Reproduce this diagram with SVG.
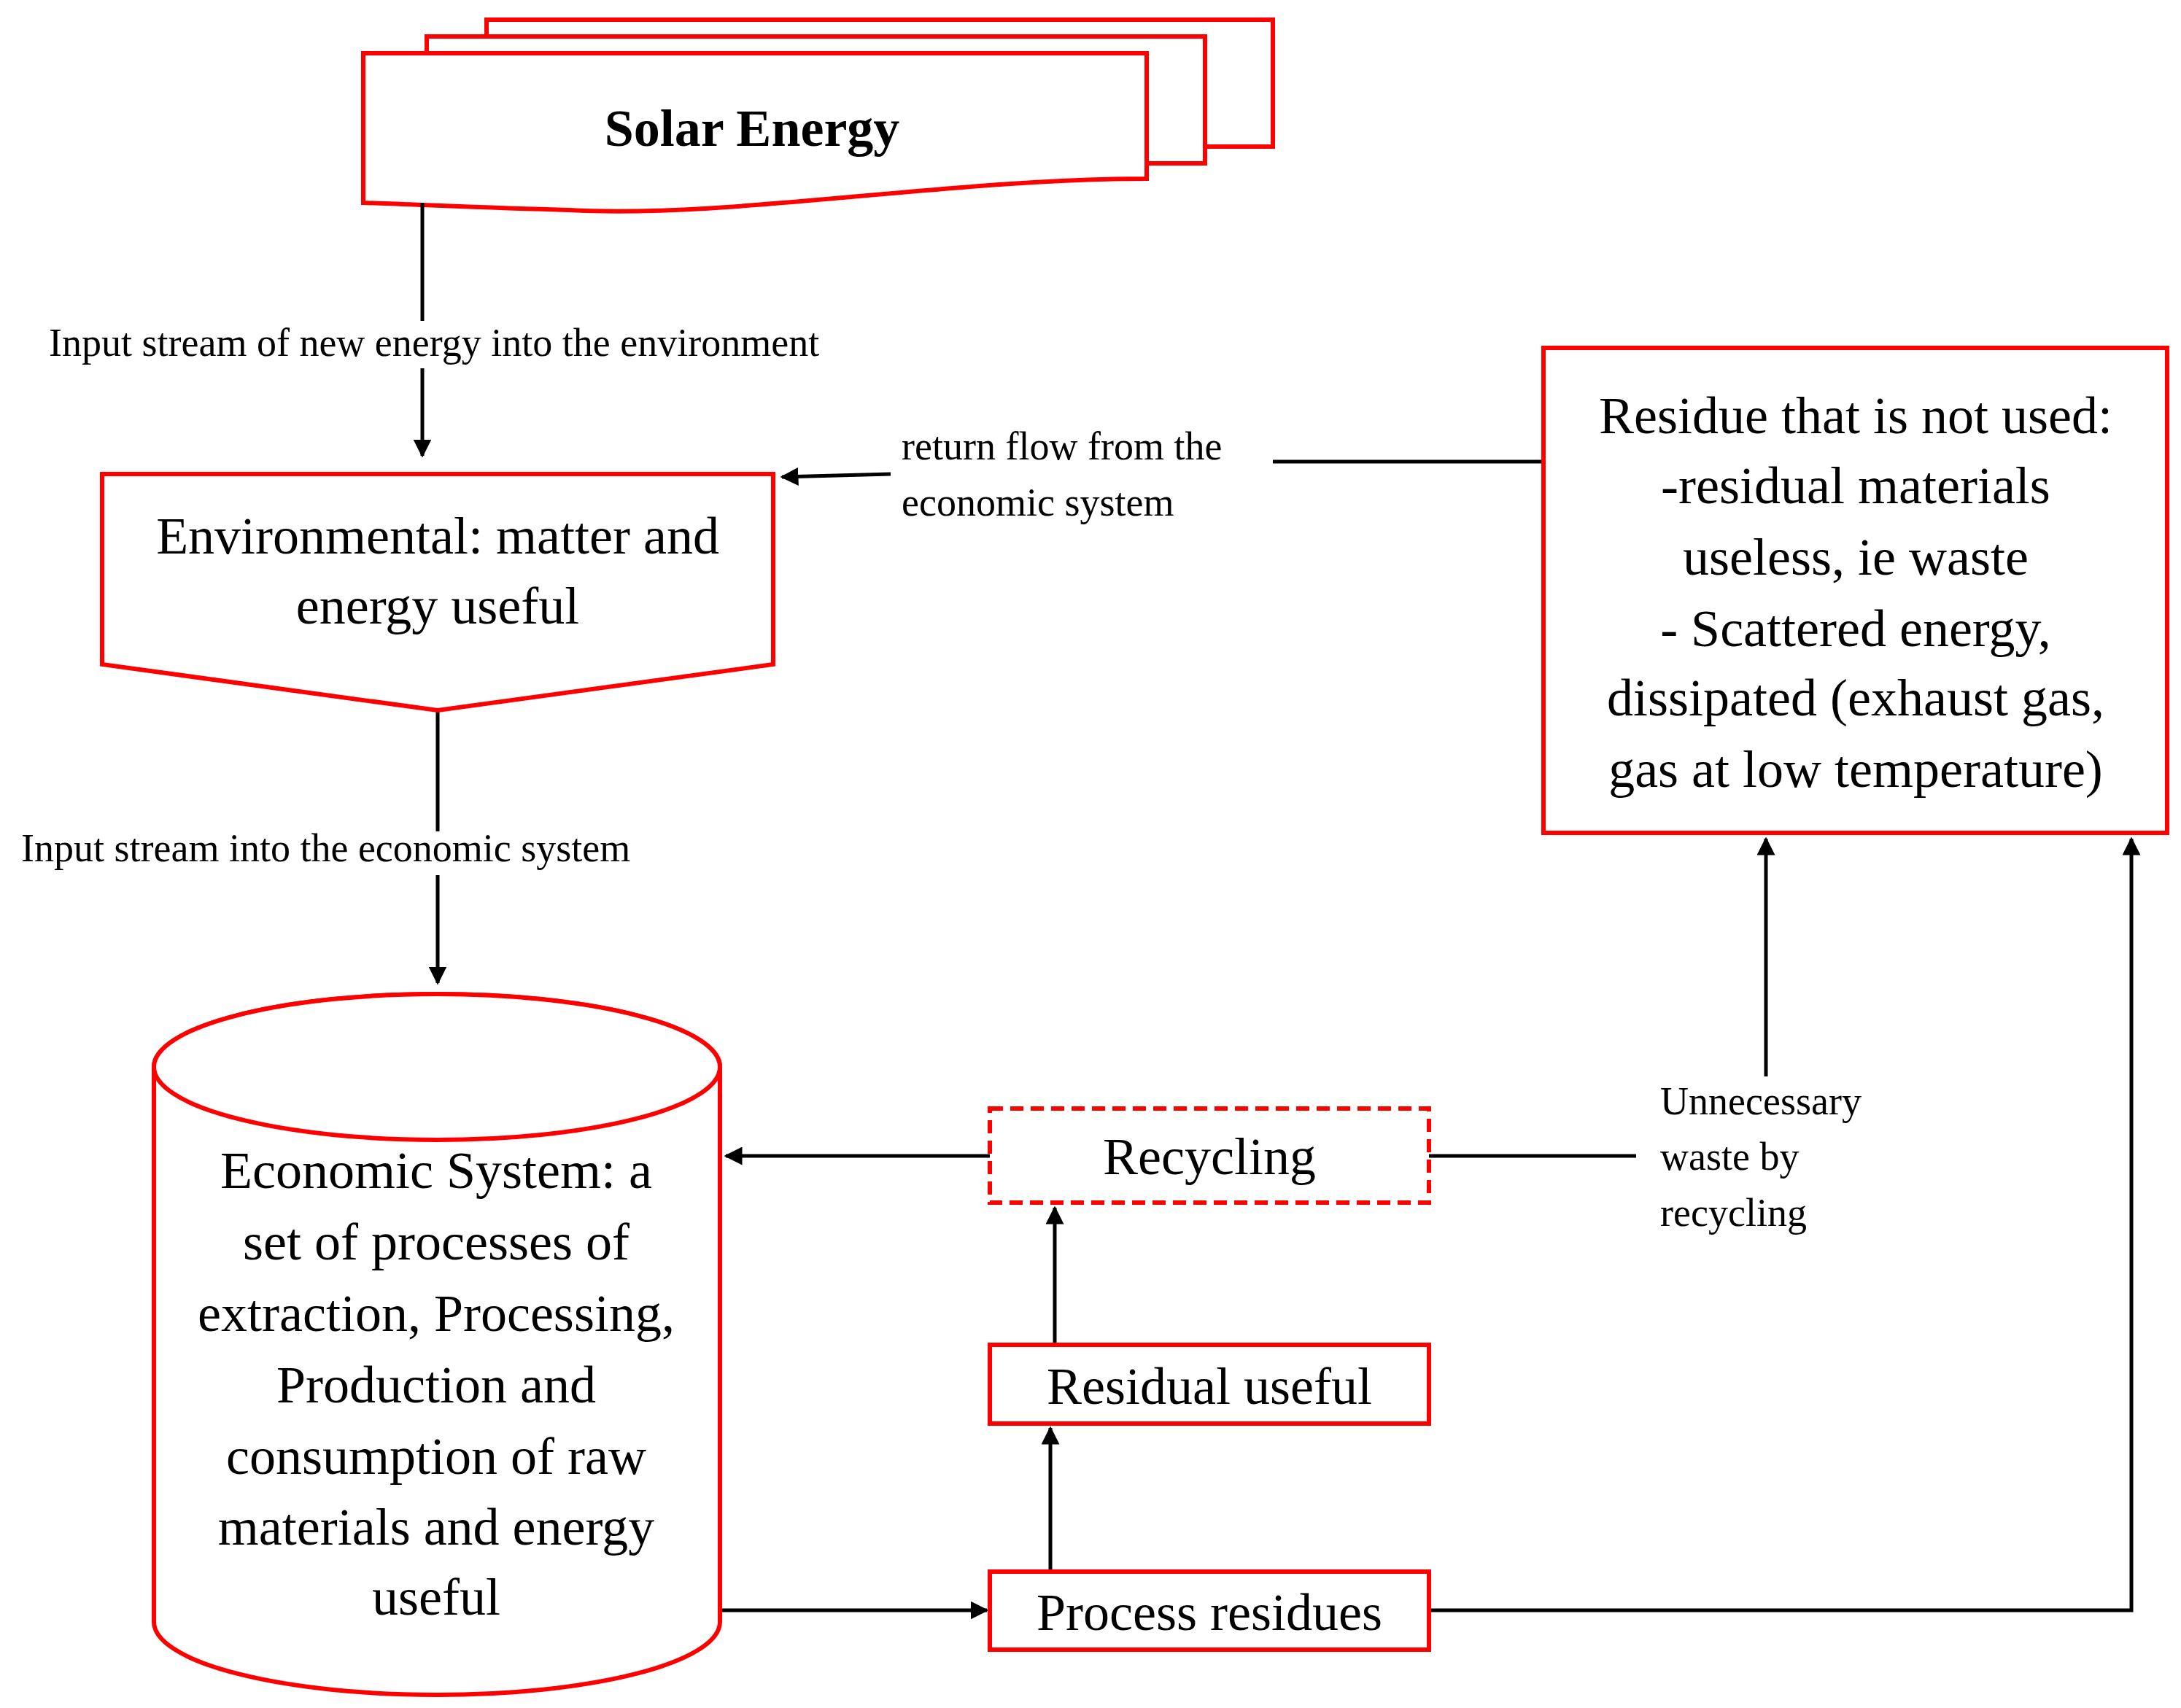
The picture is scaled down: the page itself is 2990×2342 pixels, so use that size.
<svg xmlns="http://www.w3.org/2000/svg" width="2990" height="2342" viewBox="0 0 2990 2342">
<style>
.n{fill:#fff;stroke:#f00;stroke-width:6}
.c{fill:none;stroke:#000;stroke-width:5}
text{font-family:"Liberation Serif","Times New Roman",serif;fill:#000}
.big{font-size:72px;text-anchor:middle}
.lab{font-size:54px}
</style>
<defs>
<marker id="a" viewBox="0 0 10 10" refX="9" refY="5" markerWidth="5" markerHeight="5" orient="auto" markerUnits="strokeWidth"><path d="M0,0L10,5L0,10z" fill="#000"/></marker>
</defs>
<rect width="2990" height="2342" fill="#fff"/>
<g id="solar">
<rect class="n" x="667" y="27" width="1078" height="174"/>
<rect class="n" x="585" y="50" width="1067" height="174"/>
<path class="n" d="M498,73H1572V245C1300,245 1000,300 780,288C640,284 560,280 498,278Z"/>
<text class="big" x="1031" y="200" font-weight="bold">Solar Energy</text>
</g>
<g id="connectors">
<path class="c" d="M579,278V440M579,505V625" marker-end="url(#a)"/>
<path class="c" d="M2116,633H1745"/>
<path class="c" d="M1221,650L1072,654" marker-end="url(#a)"/>
<path class="c" d="M600,974V1140M600,1200V1348" marker-end="url(#a)"/>
<path class="c" d="M1357,1585H995" marker-end="url(#a)"/>
<path class="c" d="M1959,1585H2243"/>
<path class="c" d="M2421,1476V1150" marker-end="url(#a)"/>
<path class="c" d="M1446,1844V1656" marker-end="url(#a)"/>
<path class="c" d="M1440,2155V1958" marker-end="url(#a)"/>
<path class="c" d="M987,2208H1353" marker-end="url(#a)"/>
<path class="c" d="M1959,2208H2922V1150" marker-end="url(#a)"/>
</g>
<g id="labels">
<text class="lab" x="67" y="488">Input stream of new energy into the environment</text>
<text class="lab" x="29" y="1181">Input stream into the economic system</text>
<text class="lab" x="1236" y="630">return flow from the</text>
<text class="lab" x="1236" y="707">economic system</text>
<text class="lab" x="2276" y="1528">Unnecessary</text>
<text class="lab" x="2276" y="1604">waste by</text>
<text class="lab" x="2276" y="1681">recycling</text>
</g>
<g id="environmental">
<path class="n" d="M140,650H1060V911L600,974L140,911Z"/>
<text class="big" x="600" y="759">Environmental: matter and</text>
<text class="big" x="600" y="855">energy useful</text>
</g>
<g id="residue">
<rect class="n" x="2116" y="477" width="855" height="665"/>
<text class="big" x="2544" y="594">Residue that is not used:</text>
<text class="big" x="2544" y="690">-residual materials</text>
<text class="big" x="2544" y="788">useless, ie waste</text>
<text class="big" x="2544" y="886">- Scattered energy,</text>
<text class="big" x="2544" y="981">dissipated (exhaust gas,</text>
<text class="big" x="2544" y="1079">gas at low temperature)</text>
</g>
<g id="economic">
<path class="n" d="M211,1463V2224A388,100 0 0 0 987,2224V1463A388,100 0 0 0 211,1463Z"/>
<ellipse class="n" cx="599" cy="1463" rx="388" ry="100"/>
<text class="big" x="598" y="1629">Economic System: a</text>
<text class="big" x="598" y="1727">set of processes of</text>
<text class="big" x="598" y="1825">extraction, Processing,</text>
<text class="big" x="598" y="1923">Production and</text>
<text class="big" x="598" y="2021">consumption of raw</text>
<text class="big" x="598" y="2118">materials and energy</text>
<text class="big" x="598" y="2214">useful</text>
</g>
<g id="recycling">
<rect class="n" x="1357" y="1520" width="602" height="129" stroke-dasharray="18,10"/>
<text class="big" x="1658" y="1610">Recycling</text>
</g>
<g id="residual">
<rect class="n" x="1357" y="1844" width="602" height="108"/>
<text class="big" x="1658" y="1925">Residual useful</text>
</g>
<g id="process">
<rect class="n" x="1357" y="2155" width="602" height="107"/>
<text class="big" x="1658" y="2235">Process residues</text>
</g>
</svg>
